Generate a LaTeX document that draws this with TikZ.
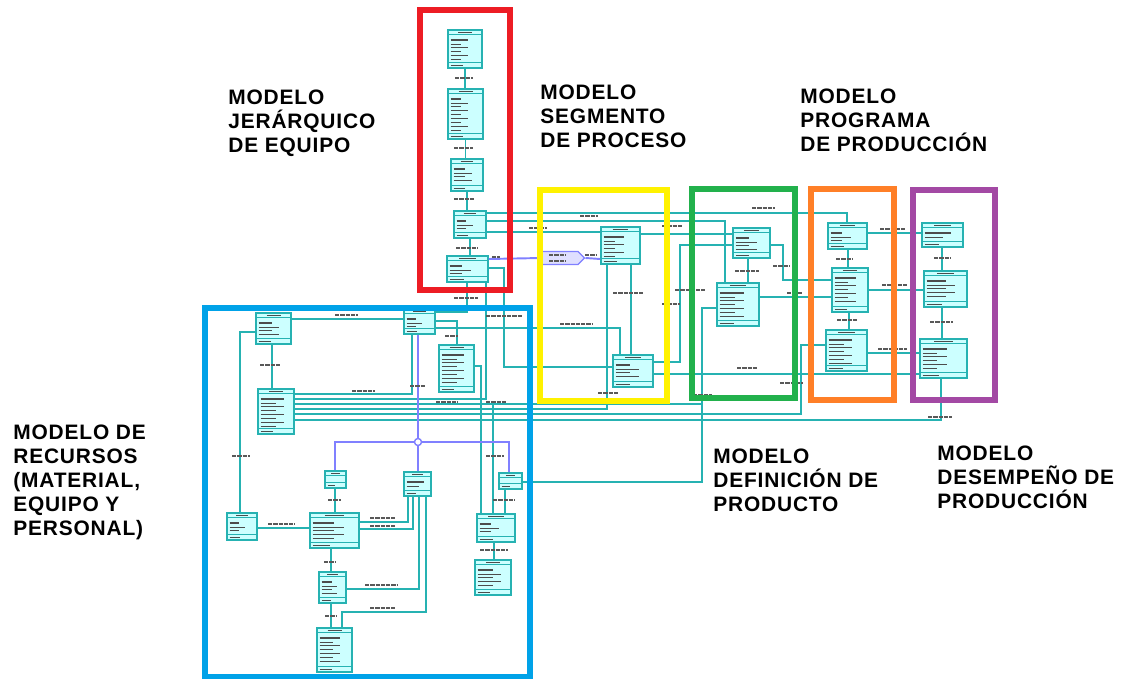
\documentclass[tikz,border=0pt]{standalone}
\usepackage{fontspec}
\newfontfamily\lblfont[LetterSpace=4]{Liberation Sans}
\usetikzlibrary{fit,calc,shapes.symbols}

\definecolor{tealc}{RGB}{38,178,178}
\definecolor{cyanf}{RGB}{204,255,255}
\definecolor{fred}{RGB}{237,28,36}
\definecolor{fyellow}{RGB}{255,242,0}
\definecolor{fgreen}{RGB}{34,177,76}
\definecolor{forange}{RGB}{255,127,39}
\definecolor{fpurple}{RGB}{163,73,164}
\definecolor{fblue}{RGB}{0,162,232}
\definecolor{lilac}{RGB}{128,128,255}

\begin{document}
\begin{tikzpicture}[x=0.02cm, y=-0.02cm,
  conn/.style={draw=tealc, line width=1.1pt},
  pconn/.style={draw=lilac, line width=1.1pt},
  mframe/.style={draw=#1, line width=3pt},
  lbl/.style={draw=black!65, line width=0.65pt, dash pattern=on 2.5pt off 0.5pt},
  title/.style={font=\lblfont\bfseries\fontsize{11.9}{13.6}\selectfont,
    align=left, anchor=north west, inner sep=0pt},
  tbl/.style={draw=tealc, fill=cyanf, line width=0.9pt, inner sep=0pt,
    path picture={
      \pgfpointdiff{\pgfpointanchor{path picture bounding box}{west}}%
        {\pgfpointanchor{path picture bounding box}{east}}%
      \pgfgetlastxy{\tbw}{\tbh}%
      \draw[tealc, line width=0.5pt]
        ([yshift=-2.8pt]path picture bounding box.north west) --
        ([yshift=-2.8pt]path picture bounding box.north east);
      \draw[tealc, line width=0.5pt]
        ([yshift=3.2pt]path picture bounding box.south west) --
        ([yshift=3.2pt]path picture bounding box.south east);
      \draw[black!70, line width=0.6pt]
        ([xshift=0.3*\tbw, yshift=-1.4pt]path picture bounding box.north west) -- ++(0.4*\tbw,0pt);
      \draw[black!70, line width=0.5pt]
        ([xshift=1.5pt, yshift=1.6pt]path picture bounding box.south west) -- ++(0.35*\tbw,0pt);
      \ifnum#1>0
        \foreach \k in {1,...,#1}{
          \pgfmathsetmacro\fr{0.3+0.07*mod(\k*3+#1,6)}
          \pgfmathsetmacro\lw{\k==1 ? 1.2 : 0.5}
          \draw[black!70, line width=\lw pt]
            ([xshift=1.5pt, yshift={-3.6pt-2.2pt*\k}]path picture bounding box.north west) -- ++(\fr*\tbw,0pt);
        }
      \fi
    }}
]
\useasboundingbox (0,0) rectangle (1123,679);
\fill[white] (0,0) rectangle (1123,679);

% tables
\foreach \nm/\xa/\ya/\xb/\yb/\r in {
  t1/448/30/482/68/6, t2/448/89/483/139/9, t3/451/159/483/191/4,
  t4/454/211/486/238/3, t5/447/256/488/282/3,
  t6/601/227/640/264/6, t7/613/355/653/387/4,
  t8/733/228/770/258/4, t9/717/283/759/326/7,
  t10/828/223/867/249/3, t11/832/268/868/312/7, t12/826/330/867/371/7,
  t13/922/223/963/247/2, t14/924/271/967/307/5, t15/920/339/967/378/6,
  t16/256/313/291/344/4, t17/404/309/435/334/3, t18/439/345/474/392/8,
  t19/258/389/294/434/8, t20/325/471/346/488/0, t21/404/472/431/496/2,
  t22/499/473/522/489/0, t23/227/513/257/540/3, t24/310/513/359/548/5,
  t25/319/572/346/603/4, t26/317/628/352/672/7, t27/477/514/515/542/3,
  t28/475/560/511/595/5}
  \node[tbl=\r, fit={(\xa,\ya) (\xb,\yb)}] (\nm) {};

\node[draw=lilac, fill=lilac!25, line width=0.8pt, signal, signal to=east,
  minimum width=0.85cm, minimum height=0.26cm, inner sep=0pt] (sg) at (560,258) {};
\node[circle, draw=lilac, fill=white, line width=0.8pt, inner sep=0pt,
  minimum size=4pt] (jp) at (418,442) {};
\coordinate (j1) at (702,404);
\coordinate (j2) at (493,404);

% equipment hierarchy
\draw[conn] (t1.south) -- (t1.south |- t2.north);
\draw[conn] (t2.south) -- (t2.south |- t3.north);
\draw[conn] (t3.south) -- (t3.south |- t4.north);
\draw[conn] (t4.south) -- (t4.south |- t5.north);
\draw[conn] (t4.east |- 0,213) -| (t10.north -| 847,0);
\draw[conn] (t4.east |- 0,221) -| (t9.north -| 725,0);
\draw[conn] (t4.east |- 0,232) -- (t6.west |- 0,232);
\draw[pconn] (t5.east |- 0,259) -- (sg.west);
\draw[pconn] (sg.east) -- (t6.west |- 0,259);
\draw[conn] (t5.south -| 467,0) |- (t17.east |- 0,312);
\draw[conn] (t5.south -| 486,0) |- (t19.east |- 0,399);
\draw[conn] (t5.east |- 0,268) -| (504,367) -- (t7.west |- 0,367);

% segments, definition, schedule, performance
\draw[conn] (t6.east |- 0,234) -- (t8.west |- 0,234);
\draw[conn] (t6.south -| 631,0) -- (t7.north -| 631,0);
\draw[conn] (t7.east |- 0,362) -| (680,245) -- (t8.west |- 0,245);
\draw[conn] (t7.east |- 0,374) -- (t15.west |- 0,374);
\draw[conn] (t8.south -| 748,0) -- (t9.north -| 748,0);
\draw[conn] (t8.east |- 0,245) -| (783,280) -- (t11.west |- 0,280);
\draw[conn] (t9.east |- 0,297) -- (t11.west |- 0,297);
\draw[conn] (t22.east |- 0,482) -| (702,308) -- (t9.west |- 0,308);
\draw[conn] (t10.south -| 848,0) -- (t11.north -| 848,0);
\draw[conn] (t11.south -| 849,0) -- (t12.north -| 849,0);
\draw[conn] (t10.east |- 0,233) -- (t13.west |- 0,233);
\draw[conn] (t11.east |- 0,290) -- (t14.west |- 0,290);
\draw[conn] (t12.east |- 0,353) -- (t15.west |- 0,353);
\draw[conn] (t13.south -| 942,0) -- (t14.north -| 942,0);
\draw[conn] (t14.south -| 942,0) -- (t15.north -| 942,0);

% resources
\draw[conn] (t16.east |- 0,319) -- (t17.west |- 0,319);
\draw[conn] (t16.south -| 272,0) -- (t19.north -| 272,0);
\draw[conn] (t16.west |- 0,332) -| (t23.north -| 240,0);
\draw[conn] (t17.east |- 0,321) -| (t18.north -| 457,0);
\draw[conn] (t17.east |- 0,328) -| (t7.north -| 620,0);
\draw[conn] (t19.east |- 0,394) -| (t17.south -| 412,0);
\draw[conn] (t19.east |- 0,404) -- (j1);
\draw[conn] (t19.east |- 0,409) -| (t6.south -| 607,0);
\draw[conn] (t19.east |- 0,414) -| (801,345) -- (t12.west |- 0,345);
\draw[conn] (t19.east |- 0,420) -| (t15.south -| 941,0);
\draw[conn] (t18.east |- 0,366) -| (t27.north -| 481,0);
\draw[conn] (j2) -- (t27.north -| 493,0);
\draw[conn] (t20.south -| 335,0) -- (t24.north -| 335,0);
\draw[conn] (t21.south -| 408,0) |- (t24.east |- 0,522);
\draw[conn] (t21.south -| 413,0) |- (t24.east |- 0,529);
\draw[conn] (t21.south -| 419,0) |- (t25.east |- 0,589);
\draw[conn] (t21.south -| 426,0) |- (342,612) -- (t26.north -| 342,0);
\draw[conn] (t23.east |- 0,528) -- (t24.west |- 0,528);
\draw[conn] (t24.south -| 331,0) -- (t25.north -| 331,0);
\draw[conn] (t25.south -| 331,0) -- (t26.north -| 331,0);
\draw[conn] (t22.south -| 505,0) -- (t27.north -| 505,0);
\draw[conn] (t27.south -| 494,0) -- (t28.north -| 494,0);
\draw[pconn] (t17.south -| 418,0) -- (jp.north);
\draw[pconn] (t20.north -| 335,0) |- (jp.west);
\draw[pconn] (t22.north -| 509,0) |- (jp.east);
\draw[pconn] (jp.south) -- (t21.north -| 418,0);

% connector labels
\foreach \xa/\xb/\yy in {455/473/78, 454/473/148, 454/474/199, 456/478/248,
  454/478/298, 492/500/257, 580/598/216, 752/775/208, 529/547/228, 662/682/226,
  549/565/255, 549/565/261, 585/596/255, 735/759/271, 773/789/266, 787/802/293,
  675/705/290, 662/680/304, 737/757/368, 780/803/383, 693/712/395,
  836/852/259, 837/858/320, 880/905/229, 882/907/285, 878/907/349,
  934/951/258, 930/953/322, 928/952/417, 613/643/293, 560/592/324, 598/619/393,
  335/358/315, 260/281/365, 445/458/336, 352/375/391, 410/425/386, 436/458/402,
  486/507/402, 486/522/316, 232/250/456, 268/295/524, 328/341/500, 370/395/518,
  370/395/526, 365/398/585, 370/396/608, 324/336/562, 325/337/616, 493/515/500,
  480/508/550, 486/504/456}
  \draw[lbl] (\xa,\yy) -- (\xb,\yy);

% model frames
\draw[mframe=fred] (420,10) rectangle (510,290);
\draw[mframe=fyellow] (540,190) rectangle (667,401);
\draw[mframe=fgreen] (692,189) rectangle (795,398);
\draw[mframe=forange] (811,189) rectangle (894,400);
\draw[mframe=fpurple] (913,190) rectangle (995,400);
\draw[mframe=fblue] (205,308) rectangle (530,677);

% model titles
\node[title] (mjer) at (228,90) {MODELO\\JERÁRQUICO\\DE EQUIPO};
\node[title] (mseg) at (540,85) {MODELO\\SEGMENTO\\DE PROCESO};
\node[title] (mprog) at (800,89) {MODELO\\PROGRAMA\\DE PRODUCCIÓN};
\node[title] (mrec) at (13,425) {MODELO DE\\RECURSOS\\(MATERIAL,\\EQUIPO Y\\PERSONAL)};
\node[title] (mdef) at (713,449) {MODELO\\DEFINICIÓN DE\\PRODUCTO};
\node[title] (mdes) at (937,446) {MODELO\\DESEMPEÑO DE\\PRODUCCIÓN};
\end{tikzpicture}
\end{document}
